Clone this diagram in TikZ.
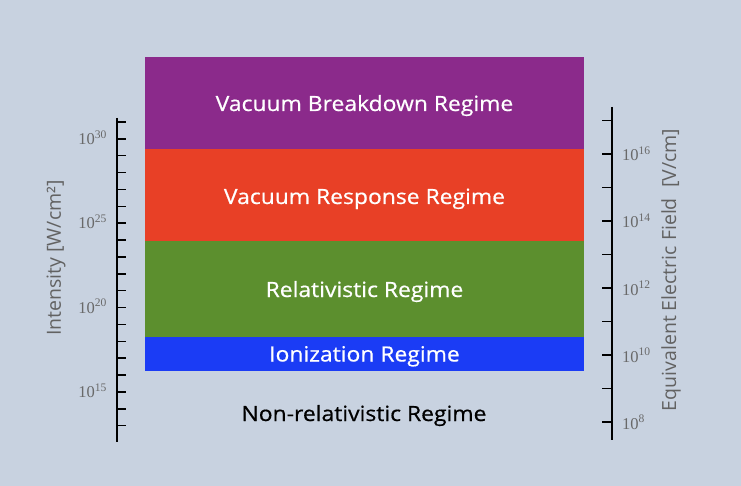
\documentclass[tikz,border=0pt]{standalone}
\usepackage{fontspec}
\setmainfont{Liberation Serif}
\newfontfamily\comic[FakeStretch=1.09,FakeBold=0.6]{Open Sans}
\newfontfamily\axfont{Open Sans}
\definecolor{bg}{RGB}{200,210,224}
\definecolor{cpurple}{RGB}{139,42,139}
\definecolor{cred}{RGB}{232,64,38}
\definecolor{cgreen}{RGB}{92,143,46}
\definecolor{cblue}{RGB}{27,60,245}
\definecolor{axgray}{RGB}{98,98,98}
\definecolor{tickgray}{RGB}{105,105,105}
\tikzset{
  regime/.style={inner sep=0pt, minimum width=439pt, text=white,
    font=\comic\fontsize{21}{25}\selectfont},
  axisline/.style={line width=1.8pt, black},
  tickline/.style={line width=1.5pt, black},
  ticklab/.style={text=tickgray, inner sep=0pt, font=\fontsize{16.5}{19}\selectfont},
  axtitle/.style={text=axgray, inner sep=0pt, font=\axfont\fontsize{19.5}{23}\selectfont, rotate=90}
}
\begin{document}
\begin{tikzpicture}[x=1pt,y=-1pt]
\fill[bg] (0,0) rectangle (741,486);
\useasboundingbox (0,0) rectangle (741,486);
% regime boxes
\node[regime, fill=cpurple, minimum height=92pt] (vb) at (364.5,103) {};
\node[regime, fill=cred, minimum height=92pt] (vr) at (364.5,195) {};
\node[regime, fill=cgreen, minimum height=96pt] (rel) at (364.5,289) {};
\node[regime, fill=cblue, minimum height=34.5pt] (ion) at (364.5,354.2) {};
\node[regime, anchor=base] (vbt) at (364.5,111) {Vacuum Breakdown Regime};
\node[regime, anchor=base] (vrt) at (364.5,204) {Vacuum Response Regime};
\node[regime, anchor=base] (relt) at (364.5,297) {Relativistic Regime};
\node[regime, anchor=base] (iont) at (364.5,361.5) {Ionization Regime};
\node[regime, anchor=base, text=black] (nonrel) at (364,421) {Non-relativistic Regime};
% left axis
\coordinate (la1) at (117,118);
\coordinate (la2) at (117,442);
\draw[axisline] (la1) -- (la2);
\foreach \k in {0,...,18} {
  \draw[tickline] (117,{122+16.87*\k}) -- (126,{122+16.87*\k});
}
\node[ticklab, anchor=base east] (l30) at (107,{122+16.87*1+5.5}) {10\textsuperscript{30}};
\node[ticklab, anchor=base east] (l25) at (107,{122+16.87*6+5.5}) {10\textsuperscript{25}};
\node[ticklab, anchor=base east] (l20) at (107,{122+16.87*11+5.5}) {10\textsuperscript{20}};
\node[ticklab, anchor=base east] (l15) at (107,{122+16.87*16+5.5}) {10\textsuperscript{15}};
\node[axtitle] (ltitle) at (56,258) {Intensity [W/cm²]};
% right axis
\coordinate (ra1) at (612,107);
\coordinate (ra2) at (612,440);
\draw[axisline] (ra1) -- (ra2);
\foreach \k in {0,...,9} {
  \draw[tickline] (602,{120.5+33.5*\k}) -- (612,{120.5+33.5*\k});
}
\node[ticklab, anchor=base west] (r16) at (622,{120.5+33.5*1+7}) {10\textsuperscript{16}};
\node[ticklab, anchor=base west] (r14) at (622,{120.5+33.5*3+7}) {10\textsuperscript{14}};
\node[ticklab, anchor=base west] (r12) at (622,{120.5+33.5*5+7}) {10\textsuperscript{12}};
\node[ticklab, anchor=base west] (r10) at (622,{120.5+33.5*7+7}) {10\textsuperscript{10}};
\node[ticklab, anchor=base west] (r8) at (622,{120.5+33.5*9+7}) {10\textsuperscript{8}};
\node[axtitle] (rtitle) at (671,270) {Equivalent Electric Field\ \ [V/cm]};
\end{tikzpicture}
\end{document}
